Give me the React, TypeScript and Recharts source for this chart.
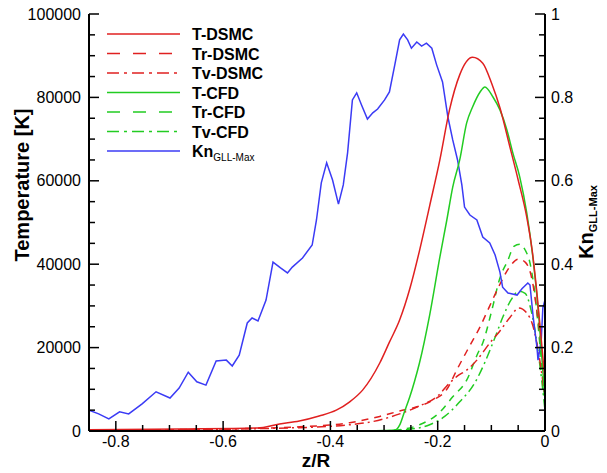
import React from 'react';
import { LineChart, Line, XAxis, YAxis } from 'recharts';

const RED = '#e02020';
const GREEN = '#22cc22';
const BLUE = '#3b3bf5';
const FONT = 'Arial, "Liberation Sans", Helvetica, sans-serif';

// axis ticks
const xMajor = [-0.8, -0.6, -0.4, -0.2, 0];
const xTicks = [-0.8, -0.75, -0.7, -0.65, -0.6, -0.55, -0.5, -0.45, -0.4, -0.35, -0.3, -0.25, -0.2, -0.15, -0.1, -0.05, 0];
const tMajor = [0, 20000, 40000, 60000, 80000, 100000];
const tTicks = [0, 5000, 10000, 15000, 20000, 25000, 30000, 35000, 40000, 45000, 50000, 55000, 60000, 65000, 70000, 75000, 80000, 85000, 90000, 95000, 100000];
const knMajor = [0, 0.2, 0.4, 0.6, 0.8, 1];
const knTicks = [0, 0.05, 0.1, 0.15, 0.2, 0.25, 0.3, 0.35, 0.4, 0.45, 0.5, 0.55, 0.6, 0.65, 0.7, 0.75, 0.8, 0.85, 0.9, 0.95, 1];

// Kn GLL-Max (right axis)
const zKn = [-0.85, -0.832, -0.813, -0.793, -0.776, -0.751, -0.725, -0.699, -0.682, -0.665, -0.649, -0.632, -0.613, -0.594, -0.583, -0.57, -0.555, -0.546, -0.535, -0.52, -0.507, -0.493, -0.48, -0.471, -0.452, -0.434, -0.426, -0.417, -0.407, -0.396, -0.385, -0.376, -0.368, -0.359, -0.351, -0.342, -0.331, -0.321, -0.312, -0.299, -0.29, -0.28, -0.271, -0.264, -0.256, -0.249, -0.239, -0.23, -0.221, -0.211, -0.202, -0.191, -0.181, -0.172, -0.163, -0.155, -0.15, -0.14, -0.127, -0.116, -0.103, -0.093, -0.084, -0.079, -0.069, -0.052, -0.043, -0.032, -0.028, -0.022, -0.015, -0.013, -0.007, -0.004, 0];
const knVals = [0.05, 0.041, 0.029, 0.046, 0.041, 0.065, 0.094, 0.079, 0.103, 0.141, 0.118, 0.11, 0.168, 0.17, 0.156, 0.182, 0.259, 0.271, 0.264, 0.314, 0.405, 0.391, 0.379, 0.393, 0.415, 0.446, 0.506, 0.595, 0.643, 0.602, 0.544, 0.59, 0.667, 0.794, 0.811, 0.782, 0.748, 0.763, 0.772, 0.794, 0.813, 0.878, 0.938, 0.952, 0.938, 0.918, 0.933, 0.923, 0.93, 0.918, 0.878, 0.837, 0.753, 0.698, 0.65, 0.59, 0.537, 0.518, 0.506, 0.465, 0.451, 0.422, 0.381, 0.345, 0.331, 0.326, 0.341, 0.355, 0.35, 0.273, 0.201, 0.17, 0.218, 0.295, 0.314];

// T-DSMC
const zTDsmc = [-0.85, -0.682, -0.536, -0.495, -0.458, -0.421, -0.389, -0.364, -0.34, -0.308, -0.29, -0.271, -0.252, -0.234, -0.215, -0.196, -0.178, -0.159, -0.135, -0.116, -0.099, -0.084, -0.065, -0.05, -0.034, -0.024, -0.015, -0.007, 0];
const tDsmc = [300, 500, 720, 1700, 2400, 3600, 5000, 7000, 9800, 16300, 21300, 26600, 34100, 43200, 54000, 65000, 77000, 85400, 89600, 88200, 83200, 77500, 67900, 60200, 51300, 43400, 33000, 22000, 12000];

// Tr-DSMC
const zTrDsmc = [-0.85, -0.645, -0.458, -0.364, -0.308, -0.271, -0.239, -0.209, -0.183, -0.163, -0.14, -0.121, -0.103, -0.084, -0.065, -0.05, -0.037, -0.024, -0.013, 0];
const trDsmc = [200, 400, 1000, 2000, 3500, 4800, 5800, 7400, 10000, 15000, 20500, 25000, 30000, 35200, 39500, 41200, 40500, 36200, 26600, 12000];

// Tv-DSMC
const zTvDsmc = [-0.85, -0.458, -0.333, -0.271, -0.234, -0.2, -0.178, -0.163, -0.146, -0.125, -0.103, -0.084, -0.065, -0.049, -0.034, -0.022, -0.011, 0];
const tvDsmc = [100, 800, 2000, 4100, 6000, 8400, 11500, 13200, 14600, 17300, 21100, 24000, 27300, 29500, 28300, 25000, 18000, 8000];

// T-CFD
const zTCfd = [-0.33, -0.3, -0.28, -0.271, -0.262, -0.252, -0.243, -0.234, -0.215, -0.196, -0.183, -0.172, -0.159, -0.146, -0.135, -0.121, -0.112, -0.097, -0.084, -0.071, -0.06, -0.047, -0.034, -0.022, -0.011, 0];
const tCfd = [0, 100, 200, 1400, 4600, 8200, 12000, 16300, 27800, 41700, 50600, 58500, 65000, 73900, 77700, 81300, 82500, 80100, 77000, 72200, 66700, 60900, 52300, 41000, 26600, 7400];

// Tr-CFD
const zTrCfd = [-0.33, -0.29, -0.271, -0.234, -0.196, -0.172, -0.146, -0.125, -0.116, -0.1, -0.084, -0.069, -0.058, -0.047, -0.037, -0.028, -0.019, -0.009, 0];
const trCfd = [0, 100, 300, 1500, 4500, 8200, 12200, 18700, 21100, 28500, 36700, 41000, 44300, 44800, 43400, 40300, 33000, 20000, 7000];

// Tv-CFD
const zTvCfd = [-0.33, -0.29, -0.253, -0.215, -0.187, -0.159, -0.131, -0.112, -0.093, -0.078, -0.063, -0.049, -0.037, -0.026, -0.015, -0.006, 0];
const tvCfd = [0, 100, 400, 1500, 3500, 7000, 11500, 16500, 22500, 27500, 31500, 33500, 33000, 29000, 21000, 12000, 5000];

const pts = (z: number[], v: number[]) => z.map((zz, i) => ({ z: zz, v: v[i] }));

const isMajor = (list: number[], v: number) => list.some((m) => Math.abs(m - v) < 1e-9);

const DASH = '7 6';
const DASHDOT = '9 4 2 4';

const LeftTick = (props: any) => {
  const { x, y, payload } = props;
  const major = isMajor(tMajor, payload.value);
  return (
    <g>
      <line x1={x} y1={y} x2={x + (major ? 10 : 6)} y2={y} stroke="#000" strokeWidth={1.5} />
      {major && (
        <text x={x - 8} y={y + 5.5} textAnchor="end" fontSize={16} fontFamily={FONT} fill="#000">
          {payload.value}
        </text>
      )}
    </g>
  );
};

const RightTick = (props: any) => {
  const { x, y, payload } = props;
  const major = isMajor(knMajor, payload.value);
  return (
    <g>
      <line x1={x} y1={y} x2={x - (major ? 10 : 6)} y2={y} stroke="#000" strokeWidth={1.5} />
      {major && (
        <text x={x + 6} y={y + 5.5} textAnchor="start" fontSize={16} fontFamily={FONT} fill="#000">
          {String(payload.value)}
        </text>
      )}
    </g>
  );
};

const BottomTick = (props: any) => {
  const { x, y, payload } = props;
  const major = isMajor(xMajor, payload.value);
  return (
    <g>
      <line x1={x} y1={y} x2={x} y2={y - (major ? 10 : 6)} stroke="#000" strokeWidth={1.5} />
      {major && (
        <text x={x} y={y + 16} textAnchor="middle" fontSize={16} fontFamily={FONT} fill="#000">
          {String(payload.value)}
        </text>
      )}
    </g>
  );
};

const legendItems = [
  { name: 'T-DSMC', color: RED, dash: undefined },
  { name: 'Tr-DSMC', color: RED, dash: '13 13' },
  { name: 'Tv-DSMC', color: RED, dash: '12 5 3 5' },
  { name: 'T-CFD', color: GREEN, dash: undefined },
  { name: 'Tr-CFD', color: GREEN, dash: '13 13' },
  { name: 'Tv-CFD', color: GREEN, dash: '12 5 3 5' },
  { name: 'Kn', color: BLUE, dash: undefined },
];

export default function App() {
  return (
    <div style={{ position: 'absolute', left: 0, top: 0, width: 607, height: 473, background: '#fff' }}>
      <LineChart width={607} height={473} margin={{ top: 14, right: 0, bottom: 0, left: 0 }}>
        <XAxis
          dataKey="z"
          type="number"
          domain={[-0.85, 0]}
          allowDataOverflow
          ticks={xTicks}
          interval={0}
          tickSize={0}
          tickMargin={0}
          tickLine={false}
          tick={<BottomTick />}
          height={42}
          axisLine={{ stroke: '#000', strokeWidth: 2 }}
        />
        <YAxis
          yAxisId="t"
          type="number"
          domain={[0, 100000]}
          allowDataOverflow
          ticks={tTicks}
          interval={0}
          tickSize={0}
          tickMargin={0}
          tickLine={false}
          tick={<LeftTick />}
          width={89}
          axisLine={{ stroke: '#000', strokeWidth: 2 }}
        />
        <YAxis
          yAxisId="kn"
          orientation="right"
          type="number"
          domain={[0, 1]}
          allowDataOverflow
          ticks={knTicks}
          interval={0}
          tickSize={0}
          tickMargin={0}
          tickLine={false}
          tick={<RightTick />}
          width={62}
          axisLine={{ stroke: '#000', strokeWidth: 2 }}
        />
        <Line yAxisId="t" data={pts(zTvCfd, tvCfd)} dataKey="v" type="monotone" stroke={GREEN} strokeWidth={1.5} strokeDasharray={DASHDOT} dot={false} isAnimationActive={false} />
        <Line yAxisId="t" data={pts(zTrCfd, trCfd)} dataKey="v" type="monotone" stroke={GREEN} strokeWidth={1.5} strokeDasharray={DASH} dot={false} isAnimationActive={false} />
        <Line yAxisId="t" data={pts(zTvDsmc, tvDsmc)} dataKey="v" type="monotone" stroke={RED} strokeWidth={1.5} strokeDasharray={DASHDOT} dot={false} isAnimationActive={false} />
        <Line yAxisId="t" data={pts(zTrDsmc, trDsmc)} dataKey="v" type="monotone" stroke={RED} strokeWidth={1.5} strokeDasharray={DASH} dot={false} isAnimationActive={false} />
        <Line yAxisId="kn" data={pts(zKn, knVals)} dataKey="v" type="linear" stroke={BLUE} strokeWidth={1.5} dot={false} isAnimationActive={false} />
        <Line yAxisId="t" data={pts(zTCfd, tCfd)} dataKey="v" type="monotone" stroke={GREEN} strokeWidth={1.5} dot={false} isAnimationActive={false} />
        <Line yAxisId="t" data={pts(zTDsmc, tDsmc)} dataKey="v" type="monotone" stroke={RED} strokeWidth={1.5} dot={false} isAnimationActive={false} />
      </LineChart>
      <svg width={607} height={473} style={{ position: 'absolute', left: 0, top: 0, pointerEvents: 'none' }}>
        {legendItems.map((it, i) => {
          const y = 34 + i * 19.5;
          return (
            <g key={it.name}>
              <line x1={107} y1={y} x2={180} y2={y} stroke={it.color} strokeWidth={1.5} strokeDasharray={it.dash} />
              <text x={192} y={y + 6} fontSize={16} fontWeight="bold" fontFamily={FONT} fill="#000">
                {it.name}
                {it.name === 'Kn' && (
                  <tspan fontSize={10} fontWeight="normal" dy={4}>GLL-Max</tspan>
                )}
              </text>
            </g>
          );
        })}
        <text
          transform="translate(29,185) rotate(-90)"
          textAnchor="middle"
          fontSize={20}
          fontWeight="bold"
          fontFamily={FONT}
          fill="#000"
        >
          Temperature [K]
        </text>
        <text
          transform="translate(593,222) rotate(-90)"
          textAnchor="middle"
          fontSize={20}
          fontWeight="bold"
          fontFamily={FONT}
          fill="#000"
        >
          Kn
          <tspan fontSize={11} dy={4}>GLL-Max</tspan>
        </text>
        <text x={316} y={467} textAnchor="middle" fontSize={19} fontWeight="bold" fontFamily={FONT} fill="#000">
          z/R
        </text>
      </svg>
    </div>
  );
}
